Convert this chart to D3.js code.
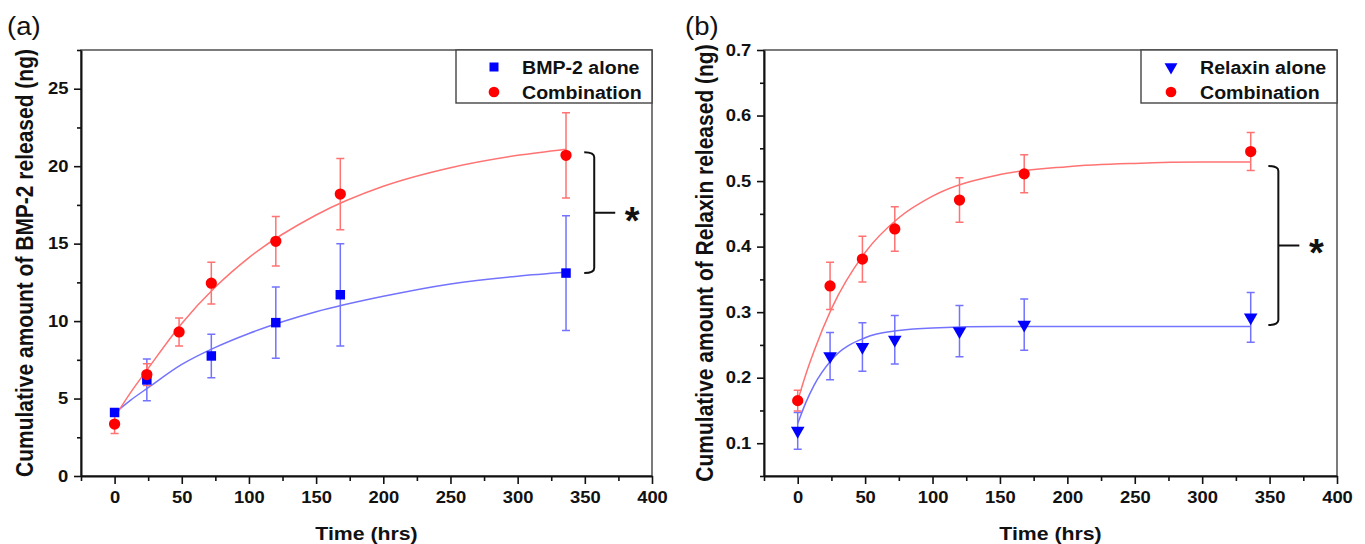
<!DOCTYPE html>
<html>
<head>
<meta charset="utf-8">
<script src="https://cdn.jsdelivr.net/npm/d3@7"></script>
<style>
    body { margin: 0; background: #fff; }
    svg text { font-family: "Liberation Sans", Arial, sans-serif; }
</style>
</head>
<body>
<div id="chart"></div>
<script>
// (a) BMP-2 release
var bmpAloneHours = [0, 24, 72, 120, 168, 336];
var bmpAloneMean = [4.1, 6.2, 7.75, 9.9, 11.7, 13.1];
var bmpAloneErr = [0.2, 1.35, 1.4, 2.3, 3.3, 3.7];
var bmpComboHours = [0, 24, 48, 72, 120, 168, 336];
var bmpComboMean = [3.35, 6.55, 9.3, 12.45, 15.15, 18.2, 20.7];
var bmpComboErr = [0.6, 0.7, 0.9, 1.35, 1.6, 2.3, 2.75];
// fitted curves
var bmpFitHours = [0, 12, 25, 50, 75, 100, 150, 200, 250, 300, 336];
var bmpAloneFit = [4.05, 4.9, 5.7, 7.2, 8.3, 9.2, 10.6, 11.6, 12.4, 12.9, 13.15];
var bmpComboFit = [3.8, 5.4, 6.95, 9.85, 12.2, 14.1, 16.85, 18.7, 19.9, 20.7, 21.1];
var bmpYTicks = [0, 5, 10, 15, 20, 25];
var bmpYMinor = [2.5, 7.5, 12.5, 17.5, 22.5, 27.5];

// (b) Relaxin release
var relHours = [0, 24, 48, 72, 120, 168, 336];
var relAloneMean = [0.119, 0.233, 0.247, 0.258, 0.271, 0.281, 0.292];
var relAloneErr = [0.028, 0.036, 0.037, 0.037, 0.039, 0.039, 0.038];
var relComboMean = [0.165, 0.34, 0.381, 0.427, 0.471, 0.511, 0.545];
var relComboErr = [0.016, 0.036, 0.035, 0.034, 0.034, 0.029, 0.029];
var relFitHours = [0, 6, 12, 25, 50, 75, 100, 150, 200, 250, 300, 336];
var relAloneFit = [0.13, 0.162, 0.188, 0.227, 0.261, 0.272, 0.276, 0.278, 0.278, 0.278, 0.278, 0.278];
var relComboFit = [0.165, 0.205, 0.24, 0.305, 0.391, 0.444, 0.477, 0.51, 0.522, 0.527, 0.529, 0.529];
var relYTicks = [0.1, 0.2, 0.3, 0.4, 0.5, 0.6, 0.7];
var relYMinor = [0.05, 0.15, 0.25, 0.35, 0.45, 0.55, 0.65];

var xTicks = [0, 50, 100, 150, 200, 250, 300, 350, 400];
var xMinor = [-25, 25, 75, 125, 175, 225, 275, 325, 375];

var RED = "#ff0000", BLUE = "#0000ff",
    RED_LIGHT = "#ff7373", BLUE_LIGHT = "#7373ff";

var svg = d3.select("#chart").append("svg")
    .attr("width", 1365)
    .attr("height", 544);

function zip(xs, ys, es) {
    return xs.map(function (x, i) {
        return { x: x, y: ys[i], e: es ? es[i] : 0 };
    });
}

function stretchText(sel, sx) {
    sel.attr("transform", function () {
        var t = d3.select(this);
        return "translate(" + t.attr("x") + "," + t.attr("y") + ") scale(" + sx + ",1)";
    }).attr("x", 0).attr("y", 0);
}

function drawPanel(p) {
    var x = d3.scaleLinear().domain([-25, 400]).range([p.left, p.right]);
    var y = d3.scaleLinear().domain(p.yDomain).range([476, 50]);
    var g = svg.append("g");

    // frame
    g.append("rect")
        .attr("x", p.left).attr("y", 50)
        .attr("width", p.right - p.left).attr("height", 426)
        .attr("fill", "none").attr("stroke", "#444").attr("stroke-width", 1.4);

    // fitted lines
    var line = d3.line()
        .x(function (d) { return x(d.x); })
        .y(function (d) { return y(d.y); })
        .curve(d3.curveMonotoneX);

    p.series.forEach(function (s) {
        g.append("path")
            .datum(zip(s.fitX, s.fitY))
            .attr("d", line)
            .attr("fill", "none")
            .attr("stroke", s.light)
            .attr("stroke-width", 1.5);
    });

    // error bars
    p.series.forEach(function (s) {
        var pts = zip(s.x, s.y, s.err);
        var eb = g.append("g").attr("stroke", s.light).attr("stroke-width", 1.5).attr("fill", "none");
        eb.selectAll("path")
            .data(pts).enter()
            .append("path")
            .attr("d", function (d) {
                var cx = x(d.x), y0 = y(d.y - d.e), y1 = y(d.y + d.e);
                return "M" + (cx - 4) + "," + y1 + "H" + (cx + 4) +
                    "M" + cx + "," + y1 + "V" + y0 +
                    "M" + (cx - 4) + "," + y0 + "H" + (cx + 4);
            });
    });

    // markers
    p.series.forEach(function (s) {
        g.selectAll(null)
            .data(zip(s.x, s.y)).enter()
            .append("path")
            .attr("d", d3.symbol().type(s.symbol).size(s.size))
            .attr("transform", function (d) {
                return "translate(" + x(d.x) + "," + y(d.y) + ")" + (s.flip ? " rotate(180)" : "");
            })
            .attr("fill", s.color);
    });

    // axes
    var xAxis = g.append("g").attr("transform", "translate(0,476)")
        .call(d3.axisBottom(x).tickValues(xTicks).tickSize(8).tickPadding(8).tickSizeOuter(0));
    g.append("g").attr("transform", "translate(0,476)")
        .call(d3.axisBottom(x).tickValues(xMinor).tickSize(5).tickFormat("").tickSizeOuter(0))
        .select(".domain").remove();
    var yAxis = g.append("g").attr("transform", "translate(" + p.left + ",0)")
        .call(d3.axisLeft(y).tickValues(p.yTicks).tickSize(7).tickPadding(4)
            .tickFormat(p.yFormat).tickSizeOuter(0));
    g.append("g").attr("transform", "translate(" + p.left + ",0)")
        .call(d3.axisLeft(y).tickValues(p.yMinor).tickSize(4).tickFormat("").tickSizeOuter(0))
        .select(".domain").remove();

    g.selectAll(".tick line").attr("stroke", "#111").attr("stroke-width", 1.6);
    g.selectAll(".domain").attr("stroke", "#111").attr("stroke-width", 2);
    [xAxis, yAxis].forEach(function (a) {
        a.selectAll("text")
            .attr("font-size", "16px")
            .attr("font-weight", "bold")
            .attr("fill", "#111")
            .attr("font-family", "Liberation Sans, Arial, sans-serif")
            .attr("transform", "scale(1.15,1)");
    });

    // axis titles
    g.append("text")
        .attr("x", (p.left + p.right) / 2).attr("y", 540)
        .attr("text-anchor", "middle")
        .attr("font-size", "19px").attr("font-weight", "bold").attr("fill", "#111")
        .text("Time (hrs)")
        .call(stretchText, 1.12);
    g.append("text")
        .attr("transform", "translate(" + p.titleX + ",263) scale(1.12,1) rotate(-90)")
        .attr("text-anchor", "middle")
        .attr("font-size", "21px").attr("font-weight", "bold").attr("fill", "#111")
        .text(p.yTitle);

    // panel label
    g.append("text")
        .attr("x", p.labelX).attr("y", 35)
        .attr("font-size", "25px").attr("fill", "#111")
        .text(p.label)
        .call(stretchText, 1.1);

    // legend
    var lw = 196, lh = 53, lx = p.right - lw;
    var leg = g.append("g").attr("transform", "translate(" + lx + ",50)");
    leg.append("rect")
        .attr("width", lw).attr("height", lh)
        .attr("fill", "#fff").attr("stroke", "#444").attr("stroke-width", 1.4);
    p.series.forEach(function (s, i) {
        var cy = 17 + i * 25;
        leg.append("path")
            .attr("d", d3.symbol().type(s.symbol).size(s.size * 0.9))
            .attr("transform", "translate(" + p.legendMarkX + "," + cy + ")" + (s.flip ? " rotate(180)" : ""))
            .attr("fill", s.color);
        leg.append("text")
            .attr("x", p.legendTextX).attr("y", cy + 6.5)
            .attr("font-size", "17.5px").attr("font-weight", "bold").attr("fill", "#111")
            .text(s.name)
            .call(stretchText, 1.12);
    });

    // significance bracket
    var bx = x(p.bracketX), top = y(p.bracketTop), bot = y(p.bracketBottom), mid = (top + bot) / 2;
    g.append("path")
        .attr("d", "M" + (bx - 10) + "," + top + "Q" + bx + "," + top + " " + bx + "," + (top + 5) +
            "V" + (bot - 5) + "Q" + bx + "," + bot + " " + (bx - 10) + "," + bot +
            "M" + bx + "," + mid + "H" + (bx + 21))
        .attr("fill", "none").attr("stroke", "#111").attr("stroke-width", 2);
    g.append("text")
        .attr("x", bx + 38).attr("y", mid + 21)
        .attr("text-anchor", "middle")
        .attr("font-size", "38px").attr("font-weight", "bold").attr("fill", "#111")
        .text("*");
}

drawPanel({
    left: 81, right: 652, labelX: 7, label: "(a)", titleX: 33,
    yDomain: [0, 27.5], yTicks: bmpYTicks, yMinor: bmpYMinor, yFormat: d3.format("d"),
    yTitle: "Cumulative amount of BMP-2 released (ng)",
    legendMarkX: 38, legendTextX: 66,
    bracketX: 357, bracketTop: 20.9, bracketBottom: 13.1,
    series: [
        { name: "BMP-2 alone", x: bmpAloneHours, y: bmpAloneMean, err: bmpAloneErr,
          fitX: bmpFitHours, fitY: bmpAloneFit, color: BLUE, light: BLUE_LIGHT,
          symbol: d3.symbolSquare, size: 90 },
        { name: "Combination", x: bmpComboHours, y: bmpComboMean, err: bmpComboErr,
          fitX: bmpFitHours, fitY: bmpComboFit, color: RED, light: RED_LIGHT,
          symbol: d3.symbolCircle, size: 100 }
    ]
});

drawPanel({
    left: 764, right: 1337, labelX: 685, label: "(b)", titleX: 713,
    yDomain: [0.05, 0.7], yTicks: relYTicks, yMinor: relYMinor, yFormat: d3.format(".1f"),
    yTitle: "Cumulative amount of Relaxin released (ng)",
    legendMarkX: 30, legendTextX: 59,
    bracketX: 356.5, bracketTop: 0.523, bracketBottom: 0.2805,
    series: [
        { name: "Relaxin alone", x: relHours, y: relAloneMean, err: relAloneErr,
          fitX: relFitHours, fitY: relAloneFit, color: BLUE, light: BLUE_LIGHT,
          symbol: d3.symbolTriangle, size: 80, flip: true },
        { name: "Combination", x: relHours, y: relComboMean, err: relComboErr,
          fitX: relFitHours, fitY: relComboFit, color: RED, light: RED_LIGHT,
          symbol: d3.symbolCircle, size: 100 }
    ]
});
</script>
</body>
</html>
